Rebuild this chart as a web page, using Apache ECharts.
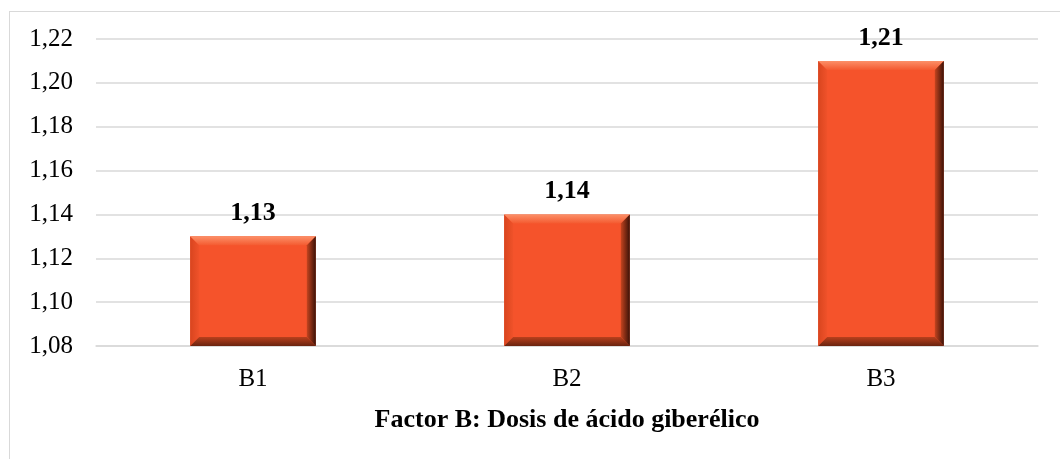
<!DOCTYPE html>
<html>
<head>
<meta charset="utf-8">
<script src="https://cdn.jsdelivr.net/npm/echarts@6/dist/echarts.min.js"></script>
<style>
  html, body { margin: 0; padding: 0; background: #fff; }
  #frame { position: absolute; left: 9px; top: 11px; width: 1100px; height: 500px; border: 1px solid #d9d9d9; box-sizing: border-box; }
  #chart { position: absolute; left: 0; top: 0; width: 1060px; height: 459px; }
</style>
</head>
<body>
<div id="frame"></div>
<div id="chart"></div>
<script>
// Factor B levels and their mean values
const categories = ['B1', 'B2', 'B3'];
const values = [1.13, 1.14, 1.21];
const yTicks = { min: 1.08, max: 1.22, step: 0.02 };
const xTitle = 'Factor B: Dosis de ácido giberélico';

const serif = '"Liberation Serif", "Times New Roman", serif';
const comma = v => v.toFixed(2).replace('.', ',');
const BAR_FRACTION = 0.4;
const BEVEL = 9;

const chart = echarts.init(document.getElementById('chart'), null, { renderer: 'canvas' });

// Bevelled edges drawn over each bar face
function renderBevel(params, api) {
  const idx = api.value(0);
  const val = api.value(1);
  const top = api.coord([idx, val]);
  const base = api.coord([idx, yTicks.min]);
  const w = api.size([1, 0])[0] * BAR_FRACTION;
  const x0 = top[0] - w / 2, x1 = top[0] + w / 2;
  const y0 = top[1], y1 = base[1];
  const b = BEVEL;
  const lin = (x, y, x2, y2, c0, c1) => new echarts.graphic.LinearGradient(x, y, x2, y2, [
    { offset: 0, color: c0 }, { offset: 1, color: c1 }
  ]);
  return {
    type: 'group',
    children: [
      { type: 'polygon', shape: { points: [[x0, y0], [x0 + b, y0 + b], [x0 + b, y1 - b], [x0, y1]] },
        style: { fill: lin(0, 0, 1, 0, '#d8451f', '#f0522a') } },
      { type: 'polygon', shape: { points: [[x0, y0], [x1, y0], [x1 - b, y0 + b], [x0 + b, y0 + b]] },
        style: { fill: lin(0, 0, 0, 1, '#fc9068', '#f45a30') } },
      { type: 'polygon', shape: { points: [[x0, y1], [x1, y1], [x1 - b, y1 - b], [x0 + b, y1 - b]] },
        style: { fill: lin(0, 0, 0, 1, '#b9401d', '#6a230f') } },
      { type: 'polygon', shape: { points: [[x1, y0], [x1, y1], [x1 - b, y1 - b], [x1 - b, y0 + b]] },
        style: { fill: lin(0, 0, 1, 0, '#c4441f', '#3a1208') } }
    ]
  };
}

chart.setOption({
  animation: false,
  grid: { left: 96, right: 22, top: 39, bottom: 113, containLabel: false },
  xAxis: {
    type: 'category',
    data: categories,
    name: xTitle,
    nameLocation: 'middle',
    nameGap: 61,
    nameTextStyle: { fontFamily: serif, fontSize: 26, fontWeight: 'bold', color: '#000' },
    axisLine: { show: true, lineStyle: { color: '#d9d9d9', width: 1.5 } },
    axisTick: { show: false },
    axisLabel: { fontFamily: serif, fontSize: 25, color: '#000', margin: 21 }
  },
  yAxis: {
    type: 'value',
    min: yTicks.min,
    max: yTicks.max,
    interval: yTicks.step,
    axisLine: { show: false },
    axisTick: { show: false },
    splitLine: { lineStyle: { color: '#d9d9d9', width: 1.5 } },
    axisLabel: { fontFamily: serif, fontSize: 25, color: '#000', margin: 23, formatter: v => comma(v) }
  },
  series: [
    {
      type: 'bar',
      data: values,
      barWidth: (BAR_FRACTION * 100) + '%',
      itemStyle: { color: '#f5532b' },
      label: {
        show: true,
        position: 'top',
        distance: 10,
        fontFamily: serif,
        fontSize: 26,
        fontWeight: 'bold',
        color: '#000',
        formatter: p => comma(p.value)
      },
      z: 2
    },
    {
      type: 'custom',
      data: values.map((v, i) => [i, v]),
      renderItem: renderBevel,
      silent: true,
      z: 3
    }
  ]
});
</script>
</body>
</html>
